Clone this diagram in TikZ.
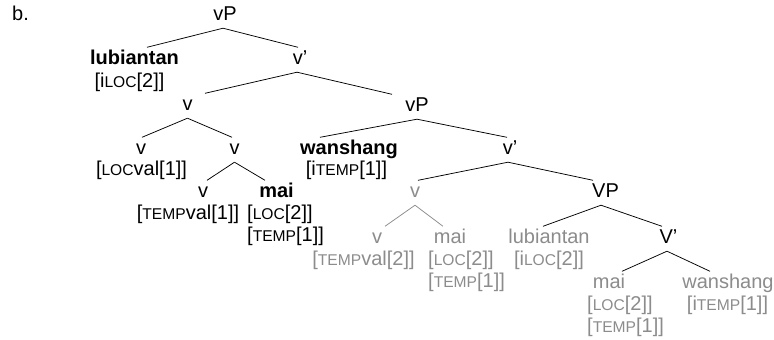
\documentclass[tikz,border=0pt]{standalone}
\usepackage{fontspec}
\setmainfont{Liberation Sans}
\definecolor{gr}{gray}{0.55}
\newcommand{\fsc}[1]{{\fontsize{15.6}{18}\selectfont #1}}
\tikzset{
  wd/.style={inner sep=0pt, text height=16.5pt, text depth=8pt, anchor=base},
  ft/.style={inner sep=0pt, anchor=base},
  ftl/.style={inner sep=0pt, anchor=base west},
  gtxt/.style={text=gr},
  br/.style={draw=black, line width=0.75pt},
  gbr/.style={draw=gr, line width=0.75pt}
}
\begin{document}
\begin{tikzpicture}[x=1pt, y=-1pt, font=\fontsize{20}{24}\selectfont]
\useasboundingbox[fill=white] (0,0) rectangle (774,340);
% label
\node[ftl] (lab) at (12,20) {b.};
% row 1
\node[wd] (vP1) at (225,20) {vP};
% row 2
\node[wd] (lub1) at (134.5,64) {\bfseries lubiantan};
\node[ft] (lub1f) at (129.5,87) {[i\fsc{LOC}[2]]};
\node[wd] (vb1) at (300,64) {v’};
% row 3
\node[wd] (v1) at (187.5,110) {v};
\node[wd] (vP2) at (417,111) {vP};
% row 4
\node[wd] (v2) at (141,154) {v};
\node[ft] (v2f) at (141.5,175) {[\fsc{LOC}val[1]]};
\node[wd] (v3) at (234.5,154) {v};
\node[wd] (wan1) at (349,154) {\bfseries wanshang};
\node[ft] (wan1f) at (346.5,175) {[i\fsc{TEMP}[1]]};
\node[wd] (vb2) at (510,154) {v’};
% row 5
\node[wd] (v4) at (203,197) {v};
\node[ft] (v4f) at (188,219) {[\fsc{TEMP}val[1]]};
\node[wd] (mai1) at (276.5,197) {\bfseries mai};
\node[ftl] (mai1f) at (247,219) {[\fsc{LOC}[2]]};
\node[ftl] (mai1g) at (247,241) {[\fsc{TEMP}[1]]};
\node[wd, gtxt] (gv) at (415,197) {v};
\node[wd] (VP) at (605.5,197) {VP};
% row 6
\node[wd, gtxt] (gv2) at (377,243) {v};
\node[ft, gtxt] (gv2f) at (363.5,265) {[\fsc{TEMP}val[2]]};
\node[wd, gtxt] (mai2) at (450,243) {mai};
\node[ftl, gtxt] (mai2f) at (428,265) {[\fsc{LOC}[2]]};
\node[ftl, gtxt] (mai2g) at (428,287) {[\fsc{TEMP}[1]]};
\node[wd, gtxt] (lub2) at (549,243) {lubiantan};
\node[ft, gtxt] (lub2f) at (549,265) {[i\fsc{LOC}[2]]};
\node[wd] (Vb) at (668.5,243) {V’};
% row 7
\node[wd, gtxt] (mai3) at (609,288) {mai};
\node[ftl, gtxt] (mai3f) at (587,310) {[\fsc{LOC}[2]]};
\node[ftl, gtxt] (mai3g) at (587,332) {[\fsc{TEMP}[1]]};
\node[wd, gtxt] (wan2) at (728,288) {wanshang};
\node[ft, gtxt] (wan2f) at (727.5,310) {[i\fsc{TEMP}[1]]};
% branches
\draw[br] ([xshift=-2pt]vP1.south) -- ([xshift=12.5pt]lub1.north);
\draw[br] ([xshift=-2pt]vP1.south) -- ([xshift=-2pt]vb1.north);
\draw[br] ([xshift=-3pt]vb1.south) -- ([xshift=17.5pt]v1.north);
\draw[br] ([xshift=-3pt]vb1.south) -- ([xshift=-25pt]vP2.north);
\draw[br] (v1.south) -- ([xshift=1pt]v2.north);
\draw[br] (v1.south) -- ([xshift=-2.5pt]v3.north);
\draw[br] (vP2.south) -- ([xshift=-29pt]wan1.north);
\draw[br] (vP2.south) -- ([xshift=-3pt]vb2.north);
\draw[br] ([xshift=-2pt]vb2.south) -- ([xshift=3pt]gv.north);
\draw[br] ([xshift=-2pt]vb2.south) -- ([xshift=-12.5pt]VP.north);
\draw[br] (v3.south) -- ([xshift=4pt]v4.north);
\draw[br] (v3.south) -- ([xshift=-11.5pt]mai1.north);
\draw[gbr] (gv.south) -- ([xshift=8pt]gv2.north);
\draw[gbr] (gv.south) -- ([xshift=-7pt]mai2.north);
\draw[br] ([xshift=-4.5pt]VP.south) -- ([xshift=-6pt]lub2.north);
\draw[br] ([xshift=-4.5pt]VP.south) -- ([xshift=-6.5pt]Vb.north);
\draw[br] ([xshift=-1.5pt]Vb.south) -- ([xshift=13pt]mai3.north);
\draw[br] ([xshift=-1.5pt]Vb.south) -- ([xshift=-18pt]wan2.north);
\end{tikzpicture}
\end{document}
